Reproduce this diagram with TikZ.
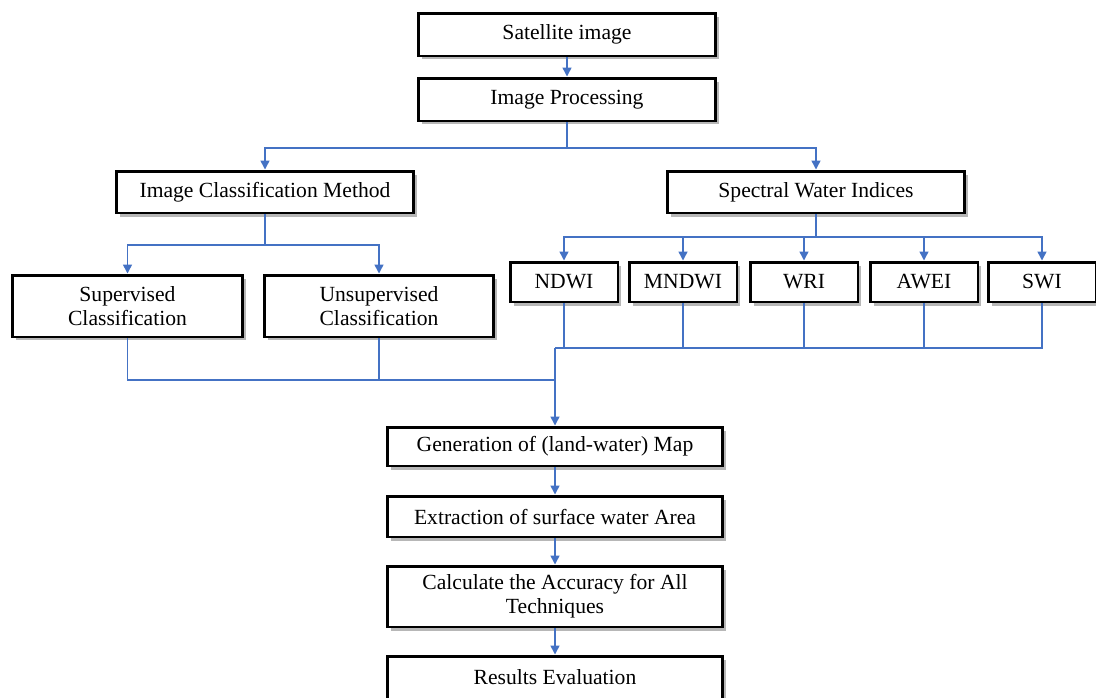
\documentclass[tikz,border=0pt]{standalone}
\usepackage{fontspec}
\setmainfont{Liberation Serif}
\usetikzlibrary{calc,positioning,shadows,arrows.meta}
\definecolor{LinkBlue}{HTML}{4472C4}
\tikzstyle{flow_box}=[rectangle,
        draw=black,
        line width=1.7pt,
        fill=white,
        align=center,
        inner sep=1pt,
        font=\fontsize{12.3}{13.6}\selectfont,
        drop shadow={shadow xshift=0.7mm, shadow yshift=-0.7mm, opacity=0.4, fill=black!70}, ]
\tikzstyle{top_box}=[flow_box, minimum width=5.96cm, minimum height=0.86cm]
\tikzstyle{method_box}=[flow_box, minimum width=5.96cm, minimum height=0.84cm]
\tikzstyle{class_box}=[flow_box, minimum width=4.6cm, minimum height=1.24cm]
\tikzstyle{index_box}=[flow_box, minimum width=2.16cm, minimum height=0.8cm]
\tikzstyle{step_box}=[flow_box, minimum width=6.72cm]
\tikzstyle{flow_line}=[draw=LinkBlue, line width=0.85pt]
\tikzstyle{flow_arrow}=[flow_line, -{Triangle[length=1.8mm, width=1.8mm]}]

\begin{document}
\begin{tikzpicture}[x=0.02cm, y=-0.02cm]
    \useasboundingbox (0,0) rectangle (1096,697);

    % top part
    \node at (567, 34.5) (sat) [top_box] {Satellite image};
    \node at (567, 99.5) (proc) [top_box] {Image Processing};
    \node at (265, 192) (icm) [method_box] {Image Classification Method};
    \node at (816, 192) (spectral) [method_box] {Spectral Water Indices};

    \node at (127.5, 306) (sup) [class_box] {Supervised\\Classification};
    \node at (379, 306) (unsup) [class_box] {Unsupervised\\Classification};

    \foreach \name/\txt/\xx in {ndwi/NDWI/564, mndwi/MNDWI/683, wri/WRI/804, awei/AWEI/924, swi/SWI/1042} {
        \node at (\xx, 282) (\name) [index_box] {\txt};
    }

    % bottom part
    \node at (555, 446.5) (gen) [step_box, minimum height=0.78cm] {Generation of (land-water) Map};
    \node at (555, 516.5) (extr) [step_box, minimum height=0.82cm] {Extraction of surface water Area};
    \node at (555, 596.5) (calc) [step_box, minimum height=1.22cm] {Calculate the Accuracy for All\\Techniques};
    \node at (555, 677.5) (res) [step_box, minimum height=0.86cm] {Results Evaluation};

    \coordinate [] (split0) at (567, 148);
    \coordinate [] (split1) at (265, 245);
    \coordinate [] (split2) at (816, 237);
    \coordinate [] (join1) at (555, 380);
    \coordinate [] (join2) at (555, 348);

    \draw[flow_arrow] (sat) -- (proc);
    \draw[flow_line] (proc) -- (split0);
    \draw[flow_arrow] (split0) -| (icm);
    \draw[flow_arrow] (split0) -| (spectral);

    \draw[flow_line] (icm) -- (split1);
    \draw[flow_arrow] (split1) -| (sup);
    \draw[flow_arrow] (split1) -| (unsup);

    \draw[flow_line] (spectral) -- (split2);
    \foreach \name in {ndwi, mndwi, wri, awei, swi} {
        \draw[flow_arrow] (split2) -| (\name);
        \draw[flow_line] (\name) |- (join2);
    }

    \draw[flow_line] (sup) |- (join1);
    \draw[flow_line] (unsup) |- (join1);
    \draw[flow_arrow] (join2) -- (gen);

    \draw[flow_arrow] (gen) -- (extr);
    \draw[flow_arrow] (extr) -- (calc);
    \draw[flow_arrow] (calc) -- (res);
\end{tikzpicture}
\end{document}
